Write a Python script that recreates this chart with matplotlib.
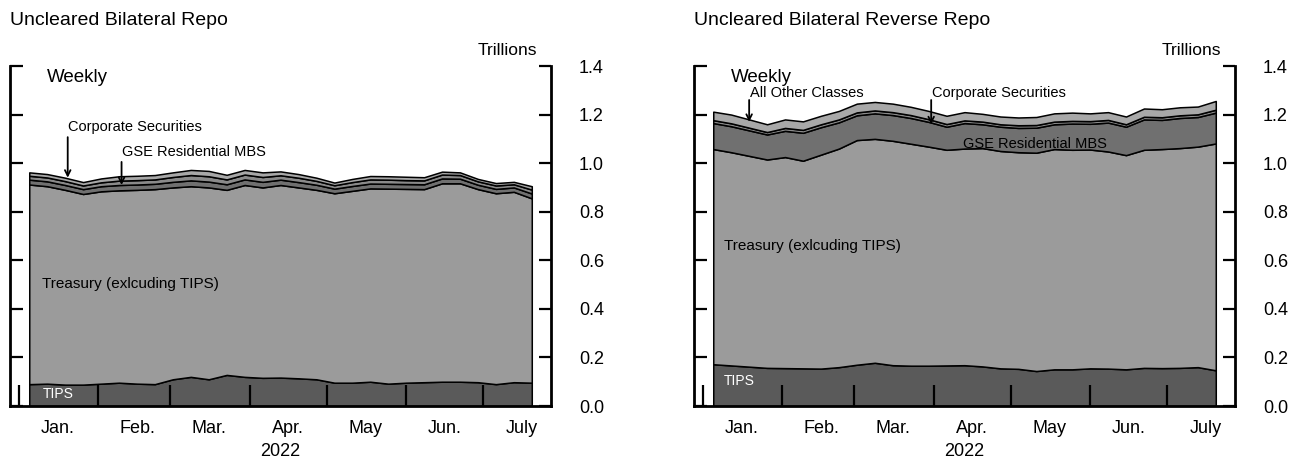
import datetime as dt
import pandas as pd
import matplotlib
matplotlib.use("Agg")
import matplotlib.pyplot as plt
import matplotlib.dates as mdates

plt.rcParams['font.family'] = ['Liberation Sans', 'DejaVu Sans']

# weekly observations, trillions of dollars
weeks = pd.date_range("2022-01-05", periods=29, freq="7D")
month_labels = ["Jan.", "Feb.", "Mar.", "Apr.", "May", "Jun.", "July"]
y_ticks = [0.0, 0.2, 0.4, 0.6, 0.8, 1.0, 1.2, 1.4]

# Uncleared bilateral repo
repo_tips = [0.090, 0.092, 0.088, 0.088, 0.092, 0.096, 0.092, 0.090, 0.110, 0.120,
             0.110, 0.128, 0.120, 0.116, 0.117, 0.114, 0.110, 0.096, 0.096, 0.100,
             0.092, 0.096, 0.098, 0.100, 0.100, 0.098, 0.090, 0.098, 0.096]
repo_treasury = [0.822, 0.813, 0.802, 0.785, 0.792, 0.792, 0.798, 0.803, 0.790, 0.785,
                 0.790, 0.762, 0.790, 0.784, 0.793, 0.786, 0.780, 0.780, 0.790, 0.796,
                 0.803, 0.798, 0.795, 0.817, 0.817, 0.795, 0.786, 0.784, 0.759]
repo_gse = [0.020, 0.020, 0.020, 0.020, 0.021, 0.022, 0.022, 0.022, 0.023, 0.024,
            0.024, 0.023, 0.023, 0.023, 0.022, 0.022, 0.021, 0.019, 0.020, 0.020,
            0.020, 0.020, 0.020, 0.020, 0.019, 0.018, 0.018, 0.018, 0.020]
repo_corp = [0.016, 0.016, 0.016, 0.015, 0.016, 0.018, 0.018, 0.018, 0.020, 0.022,
             0.022, 0.020, 0.020, 0.020, 0.018, 0.018, 0.016, 0.014, 0.016, 0.017,
             0.017, 0.016, 0.016, 0.016, 0.015, 0.014, 0.014, 0.013, 0.016]
repo_other = [0.014, 0.014, 0.014, 0.014, 0.016, 0.018, 0.018, 0.018, 0.019, 0.021,
              0.022, 0.019, 0.019, 0.019, 0.016, 0.015, 0.013, 0.011, 0.013, 0.014,
              0.014, 0.014, 0.013, 0.012, 0.011, 0.010, 0.010, 0.010, 0.014]

# Uncleared bilateral reverse repo
rev_tips = [0.172, 0.167, 0.162, 0.157, 0.156, 0.155, 0.154, 0.160, 0.170, 0.178,
            0.168, 0.166, 0.166, 0.167, 0.168, 0.163, 0.155, 0.153, 0.144, 0.151,
            0.151, 0.155, 0.154, 0.151, 0.157, 0.156, 0.157, 0.160, 0.147]
rev_treasury = [0.886, 0.878, 0.868, 0.858, 0.869, 0.855, 0.881, 0.900, 0.925, 0.922,
                0.924, 0.914, 0.902, 0.888, 0.892, 0.899, 0.895, 0.892, 0.899, 0.907,
                0.904, 0.901, 0.894, 0.882, 0.898, 0.902, 0.905, 0.908, 0.934]
rev_gse = [0.107, 0.107, 0.105, 0.103, 0.108, 0.115, 0.113, 0.108, 0.102, 0.105,
           0.106, 0.106, 0.102, 0.095, 0.105, 0.098, 0.100, 0.100, 0.103, 0.102,
           0.108, 0.106, 0.119, 0.117, 0.125, 0.120, 0.124, 0.122, 0.127]
rev_corp = [0.012, 0.012, 0.011, 0.010, 0.012, 0.012, 0.012, 0.012, 0.012, 0.012,
            0.012, 0.012, 0.011, 0.011, 0.011, 0.011, 0.010, 0.011, 0.011, 0.011,
            0.011, 0.011, 0.011, 0.010, 0.011, 0.011, 0.011, 0.011, 0.012]
rev_other = [0.035, 0.036, 0.034, 0.032, 0.035, 0.035, 0.035, 0.035, 0.036, 0.035,
             0.035, 0.034, 0.034, 0.034, 0.034, 0.032, 0.032, 0.032, 0.033, 0.034,
             0.034, 0.032, 0.032, 0.032, 0.034, 0.033, 0.033, 0.032, 0.036]

layer_colors = ['#5a5a5a', '#9b9b9b', '#707070', '#8a8a8a', '#a8a8a8']


def style_panel(ax, title):
    ax.set_xlim(dt.datetime(2021, 12, 28, 8), dt.datetime(2022, 7, 27, 12))
    ax.set_ylim(0, 1.4)
    ax.spines['top'].set_visible(False)
    for s in ['left', 'right', 'bottom']:
        ax.spines[s].set_linewidth(2)

    ax.xaxis.set_major_locator(mdates.MonthLocator())
    ax.xaxis.set_major_formatter(plt.NullFormatter())
    mids = [dt.datetime(2022, m, 1) + dt.timedelta(days=15) for m in range(1, 8)]
    ax.set_xticks(mids, minor=True)
    ax.set_xticklabels(month_labels, minor=True)
    ax.tick_params(axis='x', which='major', direction='in', length=15, width=1.6)
    ax.tick_params(axis='x', which='minor', length=0, labelsize=13, pad=10)

    ax.set_yticks(y_ticks)
    ax.set_yticklabels([f"{v:.1f}" for v in y_ticks])
    ax.tick_params(axis='y', left=True, right=True, labelleft=False, labelright=True,
                   direction='in', length=9, width=1.6, labelsize=13, pad=20)

    ax.text(0.5, -0.135, "2022", transform=ax.transAxes, ha='center', va='center', fontsize=13)
    ax.text(0.974, 1.047, "Trillions", transform=ax.transAxes, ha='right', va='center', fontsize=12.5)
    ax.text(0.0, 1.135, title, transform=ax.transAxes, ha='left', va='center', fontsize=14)
    ax.text(0.069, 0.965, "Weekly", transform=ax.transAxes, ha='left', va='center', fontsize=13.5)


fig = plt.figure(figsize=(12.96, 4.65), dpi=100)
ax1 = fig.add_axes([9.6 / 1296, 1 - 406 / 465, 541.4 / 1296, 340 / 465])
ax2 = fig.add_axes([693.6 / 1296, 1 - 406 / 465, 541.4 / 1296, 340 / 465])

ax1.stackplot(weeks, repo_tips, repo_treasury, repo_gse, repo_corp, repo_other,
              colors=layer_colors, edgecolor='black', linewidth=1.1)
ax2.stackplot(weeks, rev_tips, rev_treasury, rev_gse, rev_corp, rev_other,
              colors=layer_colors, edgecolor='black', linewidth=1.1)

style_panel(ax1, "Uncleared Bilateral Repo")
style_panel(ax2, "Uncleared Bilateral Reverse Repo")

arrow = dict(arrowstyle='->', color='black', lw=1.3, shrinkA=0, shrinkB=0)

# left panel labels
ax1.text(0.108, 0.821, "Corporate Securities", transform=ax1.transAxes, ha='left', va='center', fontsize=10.5)
ax1.annotate("", xy=(dt.datetime(2022, 1, 20), 0.94), xytext=(dt.datetime(2022, 1, 20), 1.107),
             arrowprops=arrow)
ax1.text(0.208, 0.747, "GSE Residential MBS", transform=ax1.transAxes, ha='left', va='center', fontsize=10.5)
ax1.annotate("", xy=(dt.datetime(2022, 2, 10), 0.91), xytext=(dt.datetime(2022, 2, 10), 1.005),
             arrowprops=arrow)
ax1.text(0.06, 0.359, "Treasury (exlcuding TIPS)", transform=ax1.transAxes, ha='left', va='center', fontsize=11)
ax1.text(0.062, 0.035, "TIPS", transform=ax1.transAxes, ha='left', va='center', fontsize=10, color='white')

# right panel labels
ax2.text(0.104, 0.921, "All Other Classes", transform=ax2.transAxes, ha='left', va='center', fontsize=10.5)
ax2.annotate("", xy=(dt.datetime(2022, 1, 19), 1.17), xytext=(dt.datetime(2022, 1, 19), 1.26),
             arrowprops=arrow)
ax2.text(0.44, 0.921, "Corporate Securities", transform=ax2.transAxes, ha='left', va='center', fontsize=10.5)
ax2.annotate("", xy=(dt.datetime(2022, 3, 31), 1.16), xytext=(dt.datetime(2022, 3, 31), 1.26),
             arrowprops=arrow)
ax2.text(0.498, 0.771, "GSE Residential MBS", transform=ax2.transAxes, ha='left', va='center', fontsize=10.5)
ax2.text(0.056, 0.47, "Treasury (exlcuding TIPS)", transform=ax2.transAxes, ha='left', va='center', fontsize=11)
ax2.text(0.056, 0.074, "TIPS", transform=ax2.transAxes, ha='left', va='center', fontsize=10, color='white')

fig.savefig("out.png", dpi=100)
